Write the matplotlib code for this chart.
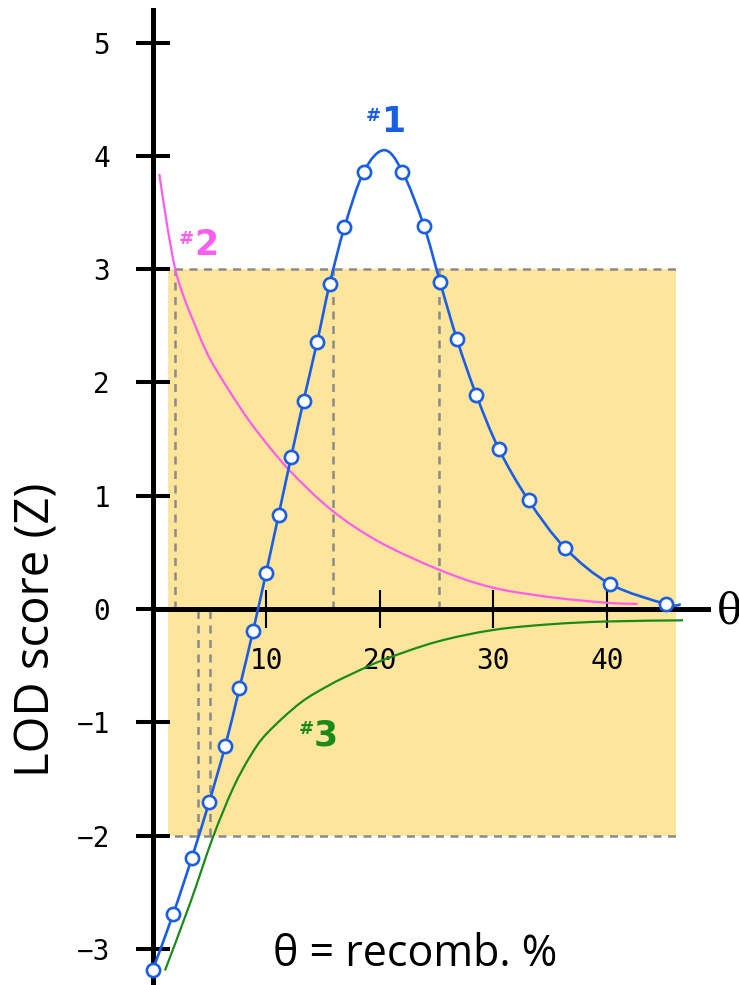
import matplotlib
matplotlib.use("Agg")
import matplotlib.pyplot as plt
from matplotlib.path import Path
from matplotlib.patches import PathPatch

# ---------------- data ----------------
blue_theta = [0.0, 1.83, 3.45, 5.0, 6.4, 7.65, 8.86, 10.0, 11.1, 12.2, 13.3, 14.5,
              15.6, 16.9, 18.6, 22.0, 23.9, 25.3, 26.8, 28.5, 30.5, 33.1, 36.3, 40.3, 45.2]
blue_z = [-3.19, -2.69, -2.20, -1.70, -1.21, -0.70, -0.19, 0.32, 0.83, 1.34, 1.84, 2.36,
          2.87, 3.37, 3.86, 3.86, 3.38, 2.89, 2.38, 1.89, 1.41, 0.96, 0.54, 0.22, 0.044]
# points of the drawn curve (markers plus peak and tail end)
blue_line_theta = [0.0, 1.83, 3.45, 5.0, 6.4, 7.65, 8.86, 10.0, 11.1, 12.2, 13.3, 14.5,
                   15.6, 16.9, 18.6, 20.4, 22.0, 23.9, 25.3, 26.8, 28.5, 30.5,
                   33.1, 36.3, 40.3, 45.2, 46.5]
blue_line_z = [-3.19, -2.69, -2.20, -1.70, -1.21, -0.70, -0.19, 0.32, 0.83, 1.34, 1.84, 2.36,
               2.87, 3.37, 3.86, 4.05, 3.86, 3.38, 2.89, 2.38, 1.89, 1.41,
               0.96, 0.54, 0.22, 0.044, 0.04]

pink_theta = [0.6, 1.3, 2.0, 2.7, 3.6, 5.1, 7.7, 9.5, 12.1, 15.8, 20.0, 25.4, 29.9, 35.0, 40.0, 42.7]
pink_z = [3.84, 3.38, 3.0, 2.77, 2.54, 2.2, 1.78, 1.53, 1.22, 0.87, 0.59, 0.34, 0.19, 0.105, 0.055, 0.045]

green_theta = [1.1, 3.3, 5.3, 7.1, 8.6, 10.05, 13.0, 15.6, 17.4, 20.3, 25.0, 30.0, 35.0, 40.0, 46.7]
green_z = [-3.19, -2.60, -2.02, -1.58, -1.30, -1.10, -0.83, -0.67, -0.58, -0.45, -0.29,
           -0.185, -0.135, -0.11, -0.10]

y_ticks = [-3, -2, -1, 0, 1, 2, 3, 4, 5]
x_ticks = [10, 20, 30, 40]

threshold_hi = 3
threshold_lo = -2
band_theta = [1.4, 46.1]
cross_hi = [2.0, 15.85, 25.25]   # theta where curves meet Z = 3
cross_lo = [4.0, 5.1]            # theta where curves meet Z = -2

# ---------------- colours ----------------
BLUE = "#1a5ee6"
PINK = "#ff5cf0"
GREEN = "#1b8a1b"
YELLOW = "#fde59c"
GREY = "#8a8a8a"

W, H = 739, 985
fig = plt.figure(figsize=(W / 100, H / 100), dpi=100)
ax = fig.add_axes([0, 0, 1, 1])

X0, XS = 152.5, 11.36   # pixel of theta=0, px per theta unit
Y0, YS = 609.0, 113.3   # pixel (from top) of Z=0, px per Z unit
ax.set_xlim(-X0 / XS, (W - X0) / XS)
ax.set_ylim((Y0 - H) / YS, Y0 / YS)


def smooth_curve(xs, ys, **kw):
    """Draw a Catmull-Rom style Bezier curve passing through the given points."""
    pts = list(zip(xs, ys))
    ext = [pts[0]] + pts + [pts[-1]]
    verts = [pts[0]]
    codes = [Path.MOVETO]
    for i in range(1, len(ext) - 2):
        p0, p1, p2, p3 = ext[i - 1], ext[i], ext[i + 1], ext[i + 2]
        c1 = (p1[0] + (p2[0] - p0[0]) / 6.0, p1[1] + (p2[1] - p0[1]) / 6.0)
        c2 = (p2[0] - (p3[0] - p1[0]) / 6.0, p2[1] - (p3[1] - p1[1]) / 6.0)
        verts += [c1, c2, p2]
        codes += [Path.CURVE4] * 3
    patch = PathPatch(Path(verts, codes), fill=False, transform=ax.transData,
                      capstyle="butt", joinstyle="round", **kw)
    ax.add_patch(patch)


# band
ax.fill_between(band_theta, threshold_lo, threshold_hi, color=YELLOW, lw=0, zorder=0)
dash = dict(color=GREY, lw=1.8, linestyle=(0, (3.2, 2.6)), zorder=1)
ax.hlines([threshold_hi, threshold_lo], 0.7, band_theta[1] + 0.15, **dash)
ax.vlines(cross_hi, 0, threshold_hi, **dash)
ax.vlines(cross_lo, threshold_lo, 0, **dash)

# curves
smooth_curve(pink_theta, pink_z, edgecolor=PINK, lw=1.6, zorder=3)
smooth_curve(green_theta, green_z, edgecolor=GREEN, lw=1.6, zorder=3)
smooth_curve(blue_line_theta, blue_line_z, edgecolor=BLUE, lw=1.9, zorder=4)
ax.plot(blue_theta, blue_z, linestyle="none", marker="o", ms=9.5, mfc="white",
        mec=BLUE, mew=1.9, zorder=5)

# spines / axes
for s in ("top", "right"):
    ax.spines[s].set_visible(False)
ax.spines["left"].set_position(("data", 0))
ax.spines["bottom"].set_position(("data", 0))
ax.spines["left"].set_linewidth(3.6)
ax.spines["bottom"].set_linewidth(3.6)
ax.spines["left"].set_bounds((Y0 - H) / YS, (Y0 - 10) / YS)
ax.spines["bottom"].set_bounds(0, (708 - X0) / XS)
ax.spines["left"].set_zorder(2.5)
ax.spines["bottom"].set_zorder(2.5)

ax.set_yticks(y_ticks)
ax.set_yticklabels([("\u2212" + str(-v)) if v < 0 else str(v) for v in y_ticks])
ax.set_xticks(x_ticks)
ax.set_xticklabels([str(v) for v in x_ticks])
ax.tick_params(axis="y", direction="inout", length=25, width=2.9, pad=18,
               labelsize=20)
ax.tick_params(axis="x", direction="inout", length=27, width=1.5, pad=14,
               labelsize=20)
for lab in ax.get_xticklabels() + ax.get_yticklabels():
    lab.set_fontfamily("DejaVu Sans Mono")

# axis titles
ax.text((729 - X0) / XS, (Y0 - 612) / YS, "\u03b8", fontsize=30,
        family="DejaVu Serif", ha="center", va="center")
ax.text((415 - X0) / XS, (Y0 - 955) / YS, "\u03b8 = recomb. %", fontsize=31,
        family=["Open Sans", "DejaVu Sans"], ha="center", va="center")
ax.text((37 - X0) / XS, (Y0 - 630) / YS, "LOD score (Z)", fontsize=34,
        family=["Open Sans", "DejaVu Sans"], rotation=90,
        ha="center", va="center")

# curve labels
def tag(xp, yp, digit, color):
    x = (xp - X0) / XS
    y = (Y0 - yp) / YS
    ax.text(x, y + 0.05, "#", fontsize=13, fontweight="bold", color=color,
            ha="right", va="center", family="DejaVu Sans")
    ax.text(x, y, digit, fontsize=25, fontweight="bold", color=color,
            ha="left", va="center", family="DejaVu Sans")

tag(381, 122, "1", BLUE)
tag(194, 245, "2", PINK)
tag(314, 735, "3", GREEN)

fig.savefig("out.png", dpi=100)
